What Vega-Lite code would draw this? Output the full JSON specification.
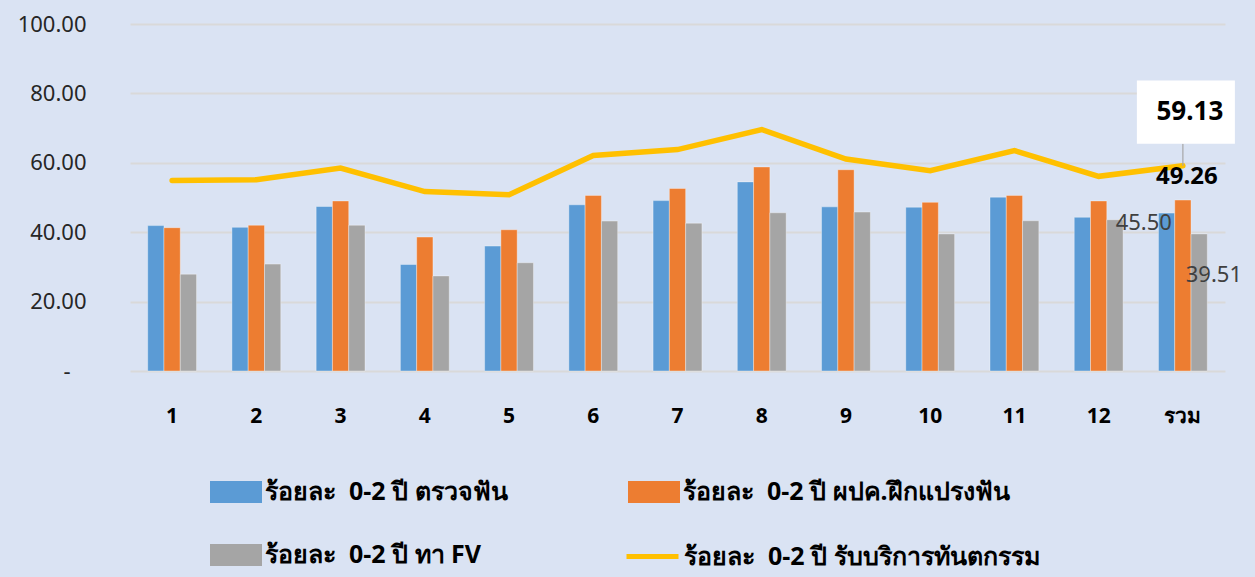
{
  "$schema": "https://vega.github.io/schema/vega-lite/v6.json",
  "width": 1095,
  "height": 347,
  "autosize": {"type": "none"},
  "padding": {"left": 130, "top": 24, "right": 30, "bottom": 206},
  "background": "#DAE3F3",
  "config": {
    "view": {"stroke": null},
    "font": "Noto Sans"
  },
  "data": {
    "values": [
      {"cat": "1", "series": "ร้อยละ  0-2 ปี ตรวจฟัน", "value": 41.9},
      {"cat": "1", "series": "ร้อยละ  0-2 ปี ผปค.ฝึกแปรงฟัน", "value": 41.3},
      {"cat": "1", "series": "ร้อยละ  0-2 ปี ทา FV", "value": 27.9},
      {"cat": "1", "series": "ร้อยละ  0-2 ปี รับบริการทันตกรรม", "value": 54.9},
      {"cat": "2", "series": "ร้อยละ  0-2 ปี ตรวจฟัน", "value": 41.4},
      {"cat": "2", "series": "ร้อยละ  0-2 ปี ผปค.ฝึกแปรงฟัน", "value": 42.0},
      {"cat": "2", "series": "ร้อยละ  0-2 ปี ทา FV", "value": 30.8},
      {"cat": "2", "series": "ร้อยละ  0-2 ปี รับบริการทันตกรรม", "value": 55.1},
      {"cat": "3", "series": "ร้อยละ  0-2 ปี ตรวจฟัน", "value": 47.4},
      {"cat": "3", "series": "ร้อยละ  0-2 ปี ผปค.ฝึกแปรงฟัน", "value": 49.0},
      {"cat": "3", "series": "ร้อยละ  0-2 ปี ทา FV", "value": 42.0},
      {"cat": "3", "series": "ร้อยละ  0-2 ปี รับบริการทันตกรรม", "value": 58.5},
      {"cat": "4", "series": "ร้อยละ  0-2 ปี ตรวจฟัน", "value": 30.7},
      {"cat": "4", "series": "ร้อยละ  0-2 ปี ผปค.ฝึกแปรงฟัน", "value": 38.6},
      {"cat": "4", "series": "ร้อยละ  0-2 ปี ทา FV", "value": 27.4},
      {"cat": "4", "series": "ร้อยละ  0-2 ปี รับบริการทันตกรรม", "value": 51.7},
      {"cat": "5", "series": "ร้อยละ  0-2 ปี ตรวจฟัน", "value": 36.0},
      {"cat": "5", "series": "ร้อยละ  0-2 ปี ผปค.ฝึกแปรงฟัน", "value": 40.7},
      {"cat": "5", "series": "ร้อยละ  0-2 ปี ทา FV", "value": 31.2},
      {"cat": "5", "series": "ร้อยละ  0-2 ปี รับบริการทันตกรรม", "value": 50.8},
      {"cat": "6", "series": "ร้อยละ  0-2 ปี ตรวจฟัน", "value": 47.9},
      {"cat": "6", "series": "ร้อยละ  0-2 ปี ผปค.ฝึกแปรงฟัน", "value": 50.6},
      {"cat": "6", "series": "ร้อยละ  0-2 ปี ทา FV", "value": 43.2},
      {"cat": "6", "series": "ร้อยละ  0-2 ปี รับบริการทันตกรรม", "value": 62.1},
      {"cat": "7", "series": "ร้อยละ  0-2 ปี ตรวจฟัน", "value": 49.1},
      {"cat": "7", "series": "ร้อยละ  0-2 ปี ผปค.ฝึกแปรงฟัน", "value": 52.6},
      {"cat": "7", "series": "ร้อยละ  0-2 ปี ทา FV", "value": 42.6},
      {"cat": "7", "series": "ร้อยละ  0-2 ปี รับบริการทันตกรรม", "value": 63.8},
      {"cat": "8", "series": "ร้อยละ  0-2 ปี ตรวจฟัน", "value": 54.5},
      {"cat": "8", "series": "ร้อยละ  0-2 ปี ผปค.ฝึกแปรงฟัน", "value": 58.8},
      {"cat": "8", "series": "ร้อยละ  0-2 ปี ทา FV", "value": 45.6},
      {"cat": "8", "series": "ร้อยละ  0-2 ปี รับบริการทันตกรรม", "value": 69.6},
      {"cat": "9", "series": "ร้อยละ  0-2 ปี ตรวจฟัน", "value": 47.3},
      {"cat": "9", "series": "ร้อยละ  0-2 ปี ผปค.ฝึกแปรงฟัน", "value": 58.0},
      {"cat": "9", "series": "ร้อยละ  0-2 ปี ทา FV", "value": 45.8},
      {"cat": "9", "series": "ร้อยละ  0-2 ปี รับบริการทันตกรรม", "value": 61.1},
      {"cat": "10", "series": "ร้อยละ  0-2 ปี ตรวจฟัน", "value": 47.2},
      {"cat": "10", "series": "ร้อยละ  0-2 ปี ผปค.ฝึกแปรงฟัน", "value": 48.6},
      {"cat": "10", "series": "ร้อยละ  0-2 ปี ทา FV", "value": 39.5},
      {"cat": "10", "series": "ร้อยละ  0-2 ปี รับบริการทันตกรรม", "value": 57.7},
      {"cat": "11", "series": "ร้อยละ  0-2 ปี ตรวจฟัน", "value": 50.1},
      {"cat": "11", "series": "ร้อยละ  0-2 ปี ผปค.ฝึกแปรงฟัน", "value": 50.6},
      {"cat": "11", "series": "ร้อยละ  0-2 ปี ทา FV", "value": 43.3},
      {"cat": "11", "series": "ร้อยละ  0-2 ปี รับบริการทันตกรรม", "value": 63.5},
      {"cat": "12", "series": "ร้อยละ  0-2 ปี ตรวจฟัน", "value": 44.3},
      {"cat": "12", "series": "ร้อยละ  0-2 ปี ผปค.ฝึกแปรงฟัน", "value": 49.0},
      {"cat": "12", "series": "ร้อยละ  0-2 ปี ทา FV", "value": 43.6},
      {"cat": "12", "series": "ร้อยละ  0-2 ปี รับบริการทันตกรรม", "value": 56.1},
      {"cat": "รวม", "series": "ร้อยละ  0-2 ปี ตรวจฟัน", "value": 45.50},
      {"cat": "รวม", "series": "ร้อยละ  0-2 ปี ผปค.ฝึกแปรงฟัน", "value": 49.26},
      {"cat": "รวม", "series": "ร้อยละ  0-2 ปี ทา FV", "value": 39.51},
      {"cat": "รวม", "series": "ร้อยละ  0-2 ปี รับบริการทันตกรรม", "value": 59.13}
    ]
  },
  "encoding": {
    "x": {
      "field": "cat",
      "type": "nominal",
      "scale": {"domain": ["1","2","3","4","5","6","7","8","9","10","11","12","รวม"], "paddingInner": 0.42, "paddingOuter": 0.21},
      "axis": {"title": null, "labelAngle": 0, "domain": false, "ticks": false, "labelPadding": 34, "labelFontSize": 21, "labelFontWeight": "bold", "labelColor": "#000000", "labelFont": "Noto Sans"}
    },
    "y": {
      "field": "value",
      "type": "quantitative",
      "scale": {"domain": [0, 100], "nice": false},
      "axis": {"title": null, "values": [0, 20, 40, 60, 80, 100], "domain": false, "ticks": false, "gridColor": "#D9D9D9", "gridWidth": 2, "labelPadding": {"condition": {"test": "datum.value === 0", "value": 60}, "value": 44}, "labelFontSize": 22, "labelColor": "#262626", "labelExpr": "datum.value === 0 ? '-' : format(datum.value, '.2f')"}
    }
  },
  "layer": [
    {
      "transform": [{"filter": "datum.series !== 'ร้อยละ  0-2 ปี รับบริการทันตกรรม'"}],
      "mark": {"type": "bar", "stroke": "#ffffff", "strokeOpacity": 0.35, "strokeWidth": 1},
      "encoding": {
        "xOffset": {"field": "series", "type": "nominal", "scale": {"domain": ["ร้อยละ  0-2 ปี ตรวจฟัน", "ร้อยละ  0-2 ปี ผปค.ฝึกแปรงฟัน", "ร้อยละ  0-2 ปี ทา FV"], "paddingInner": 0, "paddingOuter": 0}},
        "color": {
          "field": "series",
          "type": "nominal",
          "scale": {
            "domain": ["ร้อยละ  0-2 ปี ตรวจฟัน", "ร้อยละ  0-2 ปี ผปค.ฝึกแปรงฟัน", "ร้อยละ  0-2 ปี ทา FV"],
            "range": ["#5B9BD5", "#ED7D31", "#A5A5A5"]
          },
          "legend": {
            "title": null,
            "orient": "none",
            "direction": "horizontal",
            "legendX": 80,
            "legendY": 442,
            "columns": 2,
            "columnPadding": 120,
            "rowPadding": 24,
            "symbolType": "M-1,-0.42H1V0.42H-1Z",
            "symbolSize": 2704,
            "symbolStrokeWidth": 0,
            "symbolOpacity": 1,
            "labelFontSize": 25,
            "labelFontWeight": "bold",
            "labelColor": "#000000",
            "labelLimit": 500,
            "labelOffset": 3,
            "labelExpr": "replace(datum.label, '  ', '\u00a0\u00a0')"
          }
        }
      }
    },
    {
      "transform": [{"filter": "datum.series === 'ร้อยละ  0-2 ปี รับบริการทันตกรรม'"}],
      "mark": {"type": "line", "strokeWidth": 5.5, "strokeCap": "round", "strokeJoin": "miter"},
      "encoding": {
        "stroke": {
          "field": "series",
          "type": "nominal",
          "scale": {"domain": ["ร้อยละ  0-2 ปี รับบริการทันตกรรม"], "range": ["#FFC000"]},
          "legend": {
            "title": null,
            "orient": "none",
            "legendX": 494,
            "legendY": 504,
            "symbolType": "stroke",
            "symbolSize": 2704,
            "symbolStrokeWidth": 5,
            "symbolOpacity": 1,
            "labelFontSize": 25,
            "labelFontWeight": "bold",
            "labelColor": "#000000",
            "labelLimit": 500,
            "labelOffset": 3,
            "labelExpr": "replace(datum.label, '  ', '\u00a0\u00a0')"
          }
        }
      }
    },
    {
      "transform": [{"filter": "datum.series === 'ร้อยละ  0-2 ปี รับบริการทันตกรรม' && datum.cat === 'รวม'"}],
      "mark": {"type": "rule", "color": "#A6A6A6", "strokeWidth": 1.2},
      "encoding": {
        "y": {"datum": 65.5},
        "y2": {"field": "value"}
      }
    },
    {
      "transform": [{"filter": "datum.series === 'ร้อยละ  0-2 ปี รับบริการทันตกรรม' && datum.cat === 'รวม'"}],
      "mark": {"type": "bar", "color": "#ffffff", "width": 98, "xOffset": 3},
      "encoding": {
        "y": {"datum": 65.5},
        "y2": {"datum": 83.7}
      }
    },
    {
      "transform": [{"filter": "datum.series === 'ร้อยละ  0-2 ปี รับบริการทันตกรรม' && datum.cat === 'รวม'"}],
      "mark": {"type": "text", "fontSize": 26, "fontWeight": "bold", "color": "#000000", "dx": 7, "dy": -54, "baseline": "middle", "align": "center"},
      "encoding": {"text": {"field": "value", "type": "quantitative", "format": ".2f"}}
    },
    {
      "transform": [{"filter": "datum.series === 'ร้อยละ  0-2 ปี ผปค.ฝึกแปรงฟัน' && datum.cat === 'รวม'"}],
      "mark": {"type": "text", "fontSize": 24, "fontWeight": "bold", "color": "#000000", "dx": 4, "dy": -23, "baseline": "middle", "align": "center"},
      "encoding": {"text": {"field": "value", "type": "quantitative", "format": ".2f"}}
    },
    {
      "transform": [{"filter": "datum.series === 'ร้อยละ  0-2 ปี ตรวจฟัน' && datum.cat === 'รวม'"}],
      "mark": {"type": "text", "fontSize": 22, "color": "#404040", "dx": -11, "dy": 10, "baseline": "middle", "align": "right"},
      "encoding": {"text": {"field": "value", "type": "quantitative", "format": ".2f"}}
    },
    {
      "transform": [{"filter": "datum.series === 'ร้อยละ  0-2 ปี ทา FV' && datum.cat === 'รวม'"}],
      "mark": {"type": "text", "fontSize": 22, "color": "#404040", "dx": 31, "dy": 41, "baseline": "middle", "align": "center"},
      "encoding": {"text": {"field": "value", "type": "quantitative", "format": ".2f"}}
    }
  ]
}
